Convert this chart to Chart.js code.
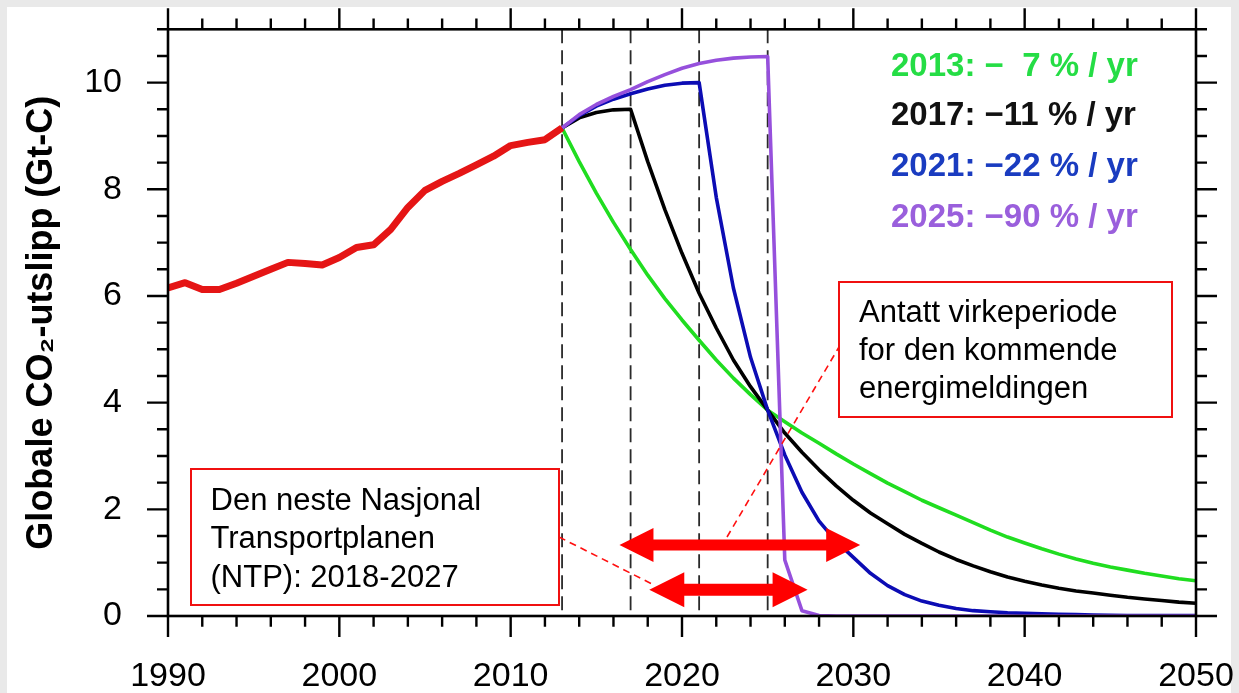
<!DOCTYPE html>
<html>
<head>
<meta charset="utf-8">
<script src="https://cdn.jsdelivr.net/npm/chart.js"></script>
<style>
html,body{margin:0;padding:0;background:#e9e9e9;overflow:hidden;width:1239px;height:693px;}
canvas{display:block;}
</style>
</head>
<body>
<canvas id="c" width="1239" height="693"></canvas>
<script>
// ---------------- data ----------------
const histYears = [1990,1991,1992,1993,1994,1995,1996,1997,1998,1999,2000,2001,2002,2003,2004,2005,2006,2007,2008,2009,2010,2011,2012,2013];
const histValues = [6.15,6.25,6.12,6.12,6.24,6.37,6.50,6.63,6.61,6.58,6.72,6.91,6.96,7.25,7.66,7.98,8.15,8.30,8.46,8.62,8.82,8.88,8.93,9.15];

const scenYears = [2013,2014,2015,2016,2017,2018,2019,2020,2021,2022,2023,2024,2025,2026,2027,2028,2029,2030,2031,2032,2033,2034,2035,2036,2037,2038,2039,2040,2041,2042,2043,2044,2045,2046,2047,2048,2049,2050];
const start2013 = [9.15,8.52,7.93,7.38,6.87,6.39,5.95,5.55,5.17,4.80,4.46,4.15,3.86,3.64,3.43,3.24,3.04,2.85,2.67,2.49,2.33,2.17,2.03,1.89,1.75,1.61,1.48,1.37,1.26,1.16,1.07,0.99,0.92,0.86,0.80,0.75,0.70,0.66];
const start2017 = [9.15,9.34,9.44,9.49,9.50,8.52,7.62,6.80,6.05,5.40,4.80,4.30,3.86,3.43,3.07,2.74,2.44,2.17,1.93,1.73,1.53,1.36,1.20,1.06,0.94,0.83,0.73,0.65,0.58,0.52,0.47,0.43,0.39,0.35,0.32,0.29,0.26,0.24];
const start2021 = [9.15,9.38,9.56,9.69,9.79,9.88,9.95,9.99,10.00,7.85,6.15,4.85,3.86,3.02,2.32,1.78,1.40,1.10,0.80,0.57,0.40,0.28,0.20,0.14,0.10,0.08,0.06,0.05,0.04,0.03,0.025,0.02,0.015,0.01,0.01,0.01,0.01,0.01];
const start2025 = [9.15,9.40,9.59,9.74,9.87,10.02,10.15,10.27,10.36,10.42,10.46,10.48,10.49,1.05,0.10,0.01,0,0,0,0,0,0,0,0,0,0,0,0,0,0,0,0,0,0,0,0,0,0];

const startYears = [2013,2017,2021,2025];
const legendLabels = ['2013: \u2212  7 % / yr','2017: \u221211 % / yr','2021: \u221222 % / yr','2025: \u221290 % / yr'];
const xTicks = [1990,2000,2010,2020,2030,2040,2050];
const yTicks = [0,2,4,6,8,10];
const yTitle = 'Globale CO\u2082-utslipp (Gt-C)';
const box1Lines = ['Antatt virkeperiode','for den kommende','energimeldingen'];
const box2Lines = ['Den neste Nasjonal','Transportplanen','(NTP): 2018-2027'];
// arrows: [fromYear, toYear, level]
const arrowEnergi = [2016.35, 2030.4, 1.33];
const arrowNTP = [2018.09, 2027.33, 0.49];

// ---------------- styles ----------------
const FONT = "'Liberation Sans', Arial, Helvetica, sans-serif";
const lineColors = ['#20dd20','#000000','#0c0cb4','#9650dc'];
const legendColors = ['#25dd45','#111111','#1a3cc0','#9a5fdc'];

function pts(xs, ys){ return xs.map((x,i)=>({x:x, y:ys[i]})); }

function arrow(g, x1, x2, yc, shaft, headL, headH){
  g.beginPath();
  g.moveTo(x1, yc);
  g.lineTo(x1+headL, yc-headH/2);
  g.lineTo(x1+headL, yc-shaft/2);
  g.lineTo(x2-headL, yc-shaft/2);
  g.lineTo(x2-headL, yc-headH/2);
  g.lineTo(x2, yc);
  g.lineTo(x2-headL, yc+headH/2);
  g.lineTo(x2-headL, yc+shaft/2);
  g.lineTo(x1+headL, yc+shaft/2);
  g.lineTo(x1+headL, yc+headH/2);
  g.closePath();
  g.fill();
}

const decor = {
  id: 'decor',
  beforeDraw(c){
    const g = c.ctx;
    g.save();
    g.fillStyle = '#e9e9e9';
    g.fillRect(0,0,c.width,c.height);
    g.fillStyle = '#ffffff';
    g.fillRect(7, 7, 1231-7, 693-7);
    g.restore();
  },
  beforeDatasetsDraw(c){
    const g = c.ctx, xs = c.scales.x, ys = c.scales.y;
    g.save();
    g.strokeStyle = '#2a2a2a';
    g.lineWidth = 1.8;
    g.setLineDash([14,7]);
    startYears.forEach(yr=>{
      const px = xs.getPixelForValue(yr);
      g.beginPath();
      g.moveTo(px, ys.getPixelForValue(11));
      g.lineTo(px, ys.getPixelForValue(0));
      g.stroke();
    });
    g.restore();
  },
  afterDatasetsDraw(c){
    const g = c.ctx, xs = c.scales.x, ys = c.scales.y;
    const L = xs.left, R = xs.right, T = ys.top, B = ys.bottom;
    g.save();
    // frame
    g.strokeStyle = '#000';
    g.lineWidth = 2.6;
    g.strokeRect(L, T, R-L, B-T);
    // ticks
    g.lineWidth = 2.4;
    g.beginPath();
    for (let v = 1990; v <= 2050; v += 2){
      const px = xs.getPixelForValue(v);
      const len = (v % 10 === 0) ? 21 : 10.7;
      g.moveTo(px, B); g.lineTo(px, B+len);
      g.moveTo(px, T); g.lineTo(px, T-len);
    }
    for (let k = 0; k <= 22; k++){
      const py = ys.getPixelForValue(k*0.5);
      const len = (k % 4 === 0) ? 21 : 11;
      g.moveTo(L, py); g.lineTo(L-len, py);
      g.moveTo(R, py); g.lineTo(R+len, py);
    }
    g.stroke();
    // legend texts
    g.font = 'bold 33px ' + FONT;
    g.textAlign = 'left';
    g.textBaseline = 'alphabetic';
    const lbY = [76, 125, 176, 227];
    legendLabels.forEach((t,i)=>{
      g.fillStyle = legendColors[i];
      g.fillText(t, 891, lbY[i]);
    });

    // ----- annotations -----
    const X = v => xs.getPixelForValue(v);
    const Y = v => ys.getPixelForValue(v);
    g.strokeStyle = '#ff1010';
    g.lineWidth = 1.6;
    g.setLineDash([7,5]);
    g.beginPath();
    g.moveTo(559, 537); g.lineTo(654, 585);
    g.moveTo(727, 537); g.lineTo(839, 347);
    g.stroke();
    g.setLineDash([]);
    g.fillStyle = '#ff0000';
    arrow(g, X(arrowEnergi[0]), X(arrowEnergi[1]), Y(arrowEnergi[2]), 11, 34, 34);
    arrow(g, X(arrowNTP[0]), X(arrowNTP[1]), Y(arrowNTP[2]), 12, 35, 35);
    function box(x1,y1,x2,y2,lines,tx,ty){
      g.fillStyle = '#ffffff';
      g.fillRect(x1,y1,x2-x1,y2-y1);
      g.strokeStyle = '#f01010';
      g.lineWidth = 2;
      g.strokeRect(x1,y1,x2-x1,y2-y1);
      g.fillStyle = '#000';
      g.font = '31px ' + FONT;
      g.textAlign = 'left';
      g.textBaseline = 'alphabetic';
      lines.forEach((t,i)=> g.fillText(t, tx, ty + i*38.3));
    }
    box(839, 282, 1172, 417, box1Lines, 859, 321.7);
    box(191, 469, 559, 605, box2Lines, 210.5, 510);
    g.restore();
  }
};

const tickFont = {family: FONT, size: 34};

new Chart(document.getElementById('c').getContext('2d'), {
  type: 'line',
  data: {
    datasets: [
      {data: pts(histYears, histValues), borderColor: '#e51515', borderWidth: 7, borderJoinStyle: 'round'},
      {data: pts(scenYears, start2025), borderColor: lineColors[3], borderWidth: 3.6, borderJoinStyle: 'round'},
      {data: pts(scenYears, start2021), borderColor: lineColors[2], borderWidth: 3.6, borderJoinStyle: 'round'},
      {data: pts(scenYears, start2017), borderColor: lineColors[1], borderWidth: 3.6, borderJoinStyle: 'round'},
      {data: pts(scenYears, start2013), borderColor: lineColors[0], borderWidth: 3.6, borderJoinStyle: 'round'}
    ]
  },
  options: {
    responsive: false,
    animation: false,
    devicePixelRatio: 1,
    layout: {padding: {left: 0, right: 43, top: 29.3, bottom: 0}},
    plugins: {legend: {display: false}, tooltip: {enabled: false}},
    elements: {point: {radius: 0}, line: {tension: 0, fill: false}},
    scales: {
      x: {
        type: 'linear', min: 1990, max: 2050,
        border: {display: false},
        grid: {display: false, drawTicks: false},
        afterBuildTicks: s => { s.ticks = xTicks.map(v => ({value: v})); },
        ticks: {autoSkip: false, maxRotation: 0, padding: 40, color: '#000', font: tickFont, callback: v => String(v)},
        afterFit: s => { s.height = 77; s.paddingLeft = 0; s.paddingRight = 0; }
      },
      y: {
        type: 'linear', min: 0, max: 11,
        border: {display: false},
        grid: {display: false, drawTicks: false},
        afterBuildTicks: s => { s.ticks = yTicks.map(v => ({value: v})); },
        ticks: {autoSkip: false, padding: 46, color: '#000', font: tickFont, callback: v => String(v)},
        title: {display: true, text: yTitle, color: '#000', font: {family: FONT, size: 36, weight: 'bold'}, padding: {top: 20, bottom: 0}},
        afterFit: s => { s.width = 168; s.paddingTop = 0; s.paddingBottom = 0; }
      }
    }
  },
  plugins: [decor]
});
</script>
</body>
</html>
